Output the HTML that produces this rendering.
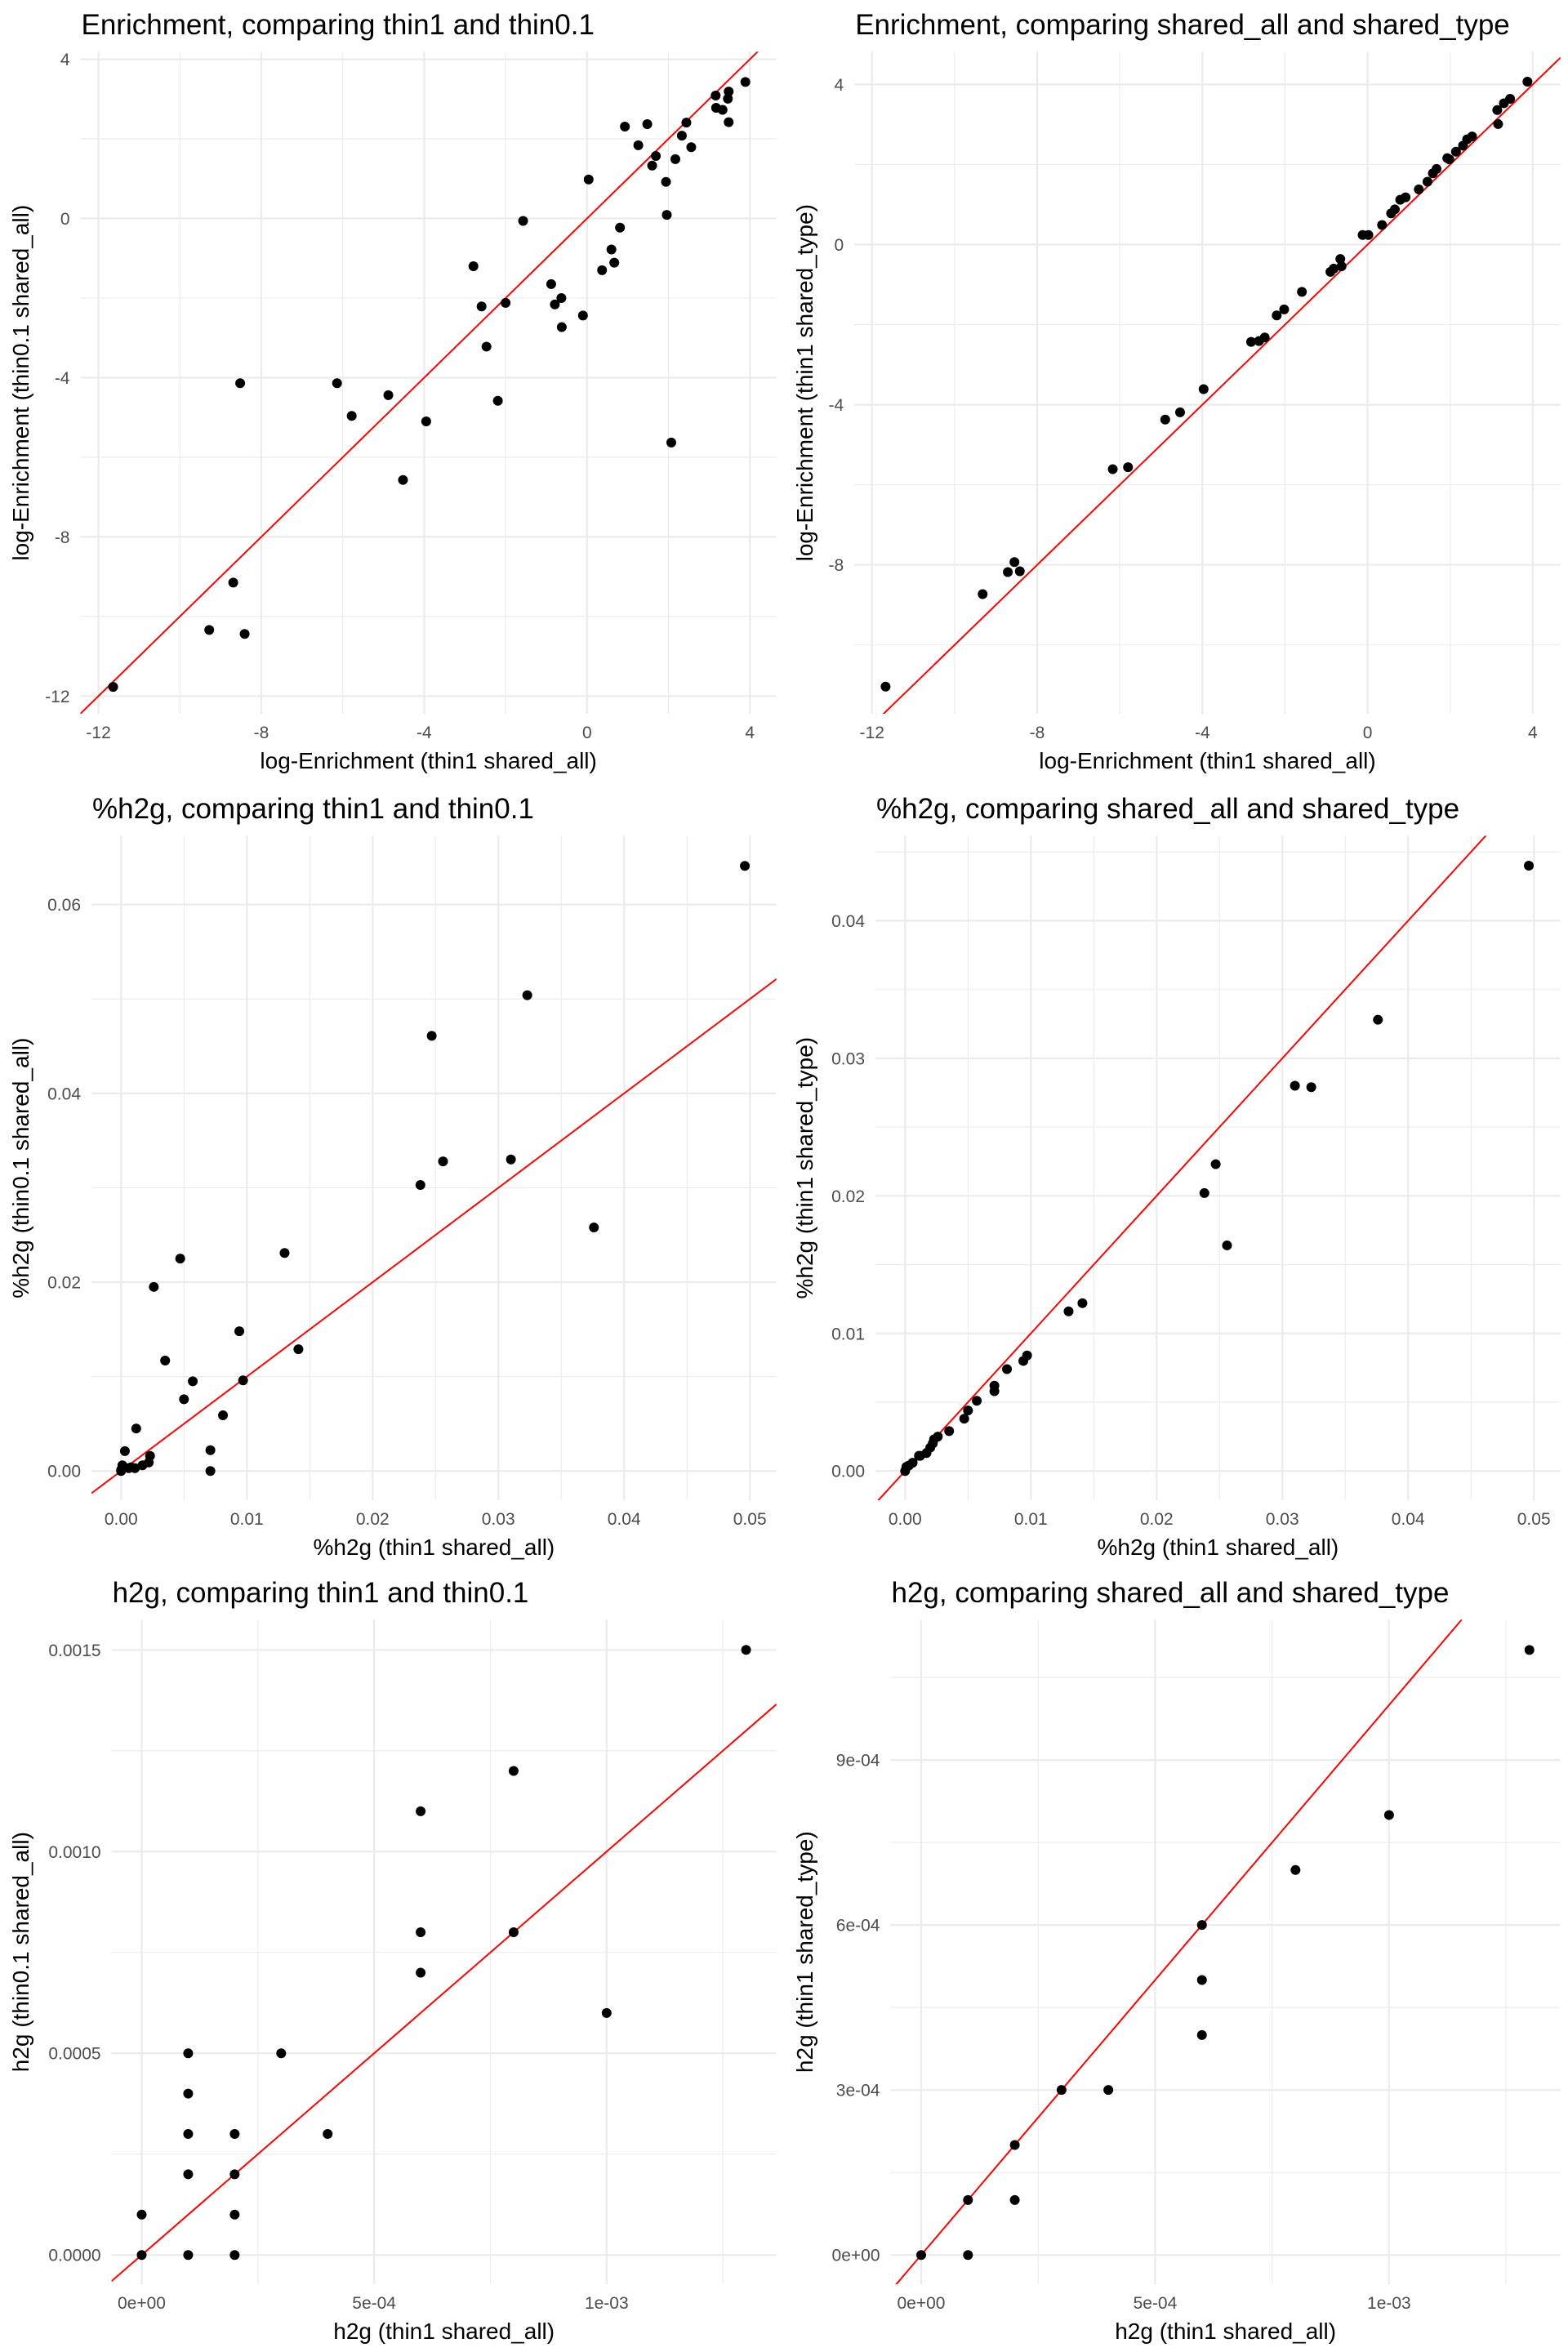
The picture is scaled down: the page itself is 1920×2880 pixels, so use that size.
<!DOCTYPE html>
<html><head><meta charset="utf-8"><style>
html,body{margin:0;padding:0;background:#fff;}
svg{display:block;font-family:"Liberation Sans",Arial,sans-serif;}
</style></head><body>
<svg id="chart" width="1920" height="2880" viewBox="0 0 1920 2880" xmlns="http://www.w3.org/2000/svg"></svg>
<script>
// ---- Panel 1 data: Enrichment thin1 vs thin0.1 ----
const p1X = [-11.64,-9.28,-8.41,-8.69,-8.52,-6.14,-5.78,-4.88,-4.52,-3.95,-2.79,-2.59,-2.47,-2.19,-2.0,-1.57,-0.88,-0.79,-0.63,-0.62,-0.10,0.04,0.37,0.60,0.67,0.81,0.93,1.26,1.48,1.60,1.69,1.94,1.96,2.07,2.17,2.33,2.44,2.56,3.16,3.17,3.33,3.46,3.48,3.48,3.89];
const p1Y = [-11.77,-10.34,-10.44,-9.15,-4.14,-4.14,-4.96,-4.44,-6.57,-5.10,-1.20,-2.21,-3.22,-4.58,-2.12,-0.06,-1.65,-2.16,-2.0,-2.73,-2.44,0.98,-1.30,-0.78,-1.11,-0.23,2.31,1.84,2.37,1.33,1.57,0.92,0.09,-5.63,1.49,2.08,2.41,1.79,3.09,2.78,2.73,3.01,3.19,2.42,3.43];
// ---- Panel 2 data: Enrichment shared_all vs shared_type ----
const p2X = [-11.67,-9.32,-8.71,-8.55,-8.42,-6.17,-5.80,-4.90,-4.54,-3.97,-2.82,-2.63,-2.49,-2.20,-2.02,-1.59,-0.90,-0.82,-0.66,-0.63,-0.12,0.02,0.35,0.57,0.66,0.79,0.92,1.24,1.45,1.58,1.67,1.93,1.98,2.14,2.31,2.41,2.53,3.14,3.16,3.30,3.45,3.87];
const p2Y = [-11.04,-8.73,-8.18,-7.93,-8.16,-5.61,-5.56,-4.37,-4.19,-3.61,-2.43,-2.41,-2.32,-1.77,-1.62,-1.18,-0.68,-0.60,-0.36,-0.54,0.24,0.24,0.49,0.78,0.88,1.12,1.18,1.38,1.57,1.78,1.89,2.16,2.13,2.32,2.47,2.63,2.70,3.36,3.01,3.53,3.64,4.07];
// ---- Panel 3 data: %h2g thin1 vs thin0.1 ----
const p3X = [0.0496,0.0323,0.0247,0.0256,0.0310,0.0238,0.0376,0.0130,0.0047,0.0026,0.0094,0.0141,0.0035,0.0057,0.0097,0.0050,0.0081,0.0012,0.0003,0.0071,0.0071,0.0023,0.0022,0.0017,0.0011,0.0006,0.0001,0.0000,0.0000,0.0008];
const p3Y = [0.0641,0.0504,0.0461,0.0328,0.0330,0.0303,0.0258,0.0231,0.0225,0.0195,0.0148,0.0129,0.0117,0.0095,0.0096,0.0076,0.0059,0.0045,0.0021,0.0022,0.0000,0.0016,0.0009,0.0006,0.0003,0.0003,0.0006,0.0000,0.0001,0.0004];
// ---- Panel 4 data: %h2g shared_all vs shared_type ----
const p4X = [0.0496,0.0376,0.0310,0.0323,0.0247,0.0238,0.0256,0.0130,0.0141,0.0097,0.0094,0.0081,0.0071,0.0071,0.0057,0.0050,0.0047,0.0035,0.0026,0.0023,0.0022,0.0020,0.0017,0.0012,0.0011,0.0006,0.0003,0.0001,0.0000];
const p4Y = [0.0440,0.0328,0.0280,0.0279,0.0223,0.0202,0.0164,0.0116,0.0122,0.0084,0.0080,0.0074,0.0062,0.0058,0.0051,0.0044,0.0038,0.0029,0.0025,0.0023,0.0020,0.0017,0.0013,0.0011,0.0011,0.0006,0.0004,0.0003,0.0000];
// ---- Panel 5 data: h2g thin1 vs thin0.1 ----
const p5X = [0,0,0.0001,0.0001,0.0001,0.0001,0.0001,0.0002,0.0002,0.0002,0.0002,0.0003,0.0004,0.0006,0.0006,0.0006,0.0008,0.0008,0.0010,0.0013];
const p5Y = [0,0.0001,0,0.0002,0.0003,0.0004,0.0005,0,0.0001,0.0002,0.0003,0.0005,0.0003,0.0011,0.0008,0.0007,0.0012,0.0008,0.0006,0.0015];
// ---- Panel 6 data: h2g shared_all vs shared_type ----
const p6X = [0,0.0001,0.0001,0.0002,0.0002,0.0003,0.0004,0.0006,0.0006,0.0006,0.0008,0.0010,0.0013];
const p6Y = [0,0,0.0001,0.0001,0.0002,0.0003,0.0003,0.0006,0.0005,0.0004,0.0007,0.0008,0.0011];
// ---- Tick values and labels ----
const enrTicks = [-12,-8,-4,0,4];
const enrTickLabels = ["-12","-8","-4","0","4"];
const enrMinor = [-10,-6,-2,2];
const pctXTicks = [0,0.01,0.02,0.03,0.04,0.05];
const pctXLabels = ["0.00","0.01","0.02","0.03","0.04","0.05"];
const pctXMinor = [0.005,0.015,0.025,0.035,0.045];
const p3YTicks = [0,0.02,0.04,0.06];
const p3YLabels = ["0.00","0.02","0.04","0.06"];
const p3YMinor = [0.01,0.03,0.05];
const p4YTicks = [0,0.01,0.02,0.03,0.04];
const p4YLabels = ["0.00","0.01","0.02","0.03","0.04"];
const p4YMinor = [0.005,0.015,0.025,0.035,0.045];
const h2XTicks = [0,0.0005,0.001];
const h2XLabels = ["0e+00","5e-04","1e-03"];
const h2XMinor = [0.00025,0.00075,0.00125];
const p5YTicks = [0,0.0005,0.001,0.0015];
const p5YLabels = ["0.0000","0.0005","0.0010","0.0015"];
const p5YMinor = [0.00025,0.00075,0.00125];
const p6YTicks = [0,0.0003,0.0006,0.0009];
const p6YLabels = ["0e+00","3e-04","6e-04","9e-04"];
const p6YMinor = [0.00015,0.00045,0.00075,0.00105];

const NS = "http://www.w3.org/2000/svg";
const svg = document.getElementById("chart");
function mk(tag, attrs, parent) {
  const e = document.createElementNS(NS, tag);
  for (const k in attrs) e.setAttribute(k, attrs[k]);
  (parent || svg).appendChild(e);
  return e;
}
function lin(v0, p0, v1, p1) { return v => p0 + (v - v0) * (p1 - p0) / (v1 - v0); }

const panels = [
  {id:"enrichment-thin", title:"Enrichment, comparing thin1 and thin0.1", xt:"log-Enrichment (thin1 shared_all)", yt:"log-Enrichment (thin0.1 shared_all)",
   L:98.5,T:63.4,R:950.8,B:874, xs:[-12,120.6,4,918.2], ys:[4,72.6,-12,852.3], xT:enrTicks,xL:enrTickLabels,xM:enrMinor, yT:enrTicks,yL:enrTickLabels,yM:enrMinor, X:p1X,Y:p1Y, ytx:35},
  {id:"enrichment-shared", title:"Enrichment, comparing shared_all and shared_type", xt:"log-Enrichment (thin1 shared_all)", yt:"log-Enrichment (thin1 shared_type)",
   L:1046.2,T:63.4,R:1910.8,B:874, xs:[-12,1067.7,4,1876.9], ys:[4,103.4,-8,691.7], xT:enrTicks,xL:enrTickLabels,xM:enrMinor, yT:enrTicks,yL:enrTickLabels,yM:enrMinor, X:p2X,Y:p2Y, ytx:995},
  {id:"pct-h2g-thin", title:"%h2g, comparing thin1 and thin0.1", xt:"%h2g (thin1 shared_all)", yt:"%h2g (thin0.1 shared_all)",
   L:112,T:1023.4,R:950.8,B:1837, xs:[0,148.3,0.05,918.2], ys:[0,1801.2,0.06,1107.7], xT:pctXTicks,xL:pctXLabels,xM:pctXMinor, yT:p3YTicks,yL:p3YLabels,yM:p3YMinor, X:p3X,Y:p3Y, ytx:35},
  {id:"pct-h2g-shared", title:"%h2g, comparing shared_all and shared_type", xt:"%h2g (thin1 shared_all)", yt:"%h2g (thin1 shared_type)",
   L:1072,T:1023.4,R:1910.8,B:1837, xs:[0,1108.3,0.05,1878.2], ys:[0,1801.2,0.04,1127.4], xT:pctXTicks,xL:pctXLabels,xM:pctXMinor, yT:p4YTicks,yL:p4YLabels,yM:p4YMinor, X:p4X,Y:p4Y, ytx:995},
  {id:"h2g-thin", title:"h2g, comparing thin1 and thin0.1", xt:"h2g (thin1 shared_all)", yt:"h2g (thin0.1 shared_all)",
   L:136.6,T:1983.4,R:950.8,B:2797, xs:[0,173.5,0.001,742.8], ys:[0,2761.2,0.0015,2020.3], xT:h2XTicks,xL:h2XLabels,xM:h2XMinor, yT:p5YTicks,yL:p5YLabels,yM:p5YMinor, X:p5X,Y:p5Y, ytx:35},
  {id:"h2g-shared", title:"h2g, comparing shared_all and shared_type", xt:"h2g (thin1 shared_all)", yt:"h2g (thin1 shared_type)",
   L:1090.5,T:1983.4,R:1910.8,B:2797, xs:[0,1128,0.001,1700.9], ys:[0,2761.2,0.0009,2155.1], xT:h2XTicks,xL:h2XLabels,xM:h2XMinor, yT:p6YTicks,yL:p6YLabels,yM:p6YMinor, X:p6X,Y:p6Y, ytx:995}
];

panels.forEach((p, i) => {
  const g = mk("g", {});
  
  
  const sx = lin(p.xs[0], p.xs[1], p.xs[2], p.xs[3]);
  const sy = lin(p.ys[0], p.ys[1], p.ys[2], p.ys[3]);
  const cid = "clip" + i;
  const cp = mk("clipPath", {id: cid}, g);
  mk("rect", {x:p.L, y:p.T, width:p.R-p.L, height:p.B-p.T}, cp);
  p.xM.forEach(v => { const x = sx(v); if (x>p.L && x<p.R) { const l = mk("line",{x1:x,x2:x,y1:p.T,y2:p.B,stroke:"#ebebeb","stroke-width":1.1},g);   }});
  p.yM.forEach(v => { const y = sy(v); if (y>p.T && y<p.B) { const l = mk("line",{x1:p.L,x2:p.R,y1:y,y2:y,stroke:"#ebebeb","stroke-width":1.1},g);   }});
  p.xT.forEach((v, k) => {
    const x = sx(v);
    if (x < p.L || x > p.R) return;
    const l = mk("line",{x1:x,x2:x,y1:p.T,y2:p.B,stroke:"#ebebeb","stroke-width":2.2},g);
     
    const t = mk("text",{x:x,y:p.B+30,"text-anchor":"middle","font-size":21,fill:"#4d4d4d"},g);
    t.textContent = p.xL[k];
     
  });
  p.yT.forEach((v, k) => {
    const y = sy(v);
    if (y < p.T || y > p.B) return;
    const l = mk("line",{x1:p.L,x2:p.R,y1:y,y2:y,stroke:"#ebebeb","stroke-width":2.2},g);
     
    const t = mk("text",{x:p.L-13,y:y+7.5,"text-anchor":"end","font-size":21,fill:"#4d4d4d"},g);
    t.textContent = p.yL[k];
     
  });
  const xmin = p.xs[0] + (p.L - p.xs[1]) * (p.xs[2]-p.xs[0])/(p.xs[3]-p.xs[1]);
  const xmax = p.xs[0] + (p.R - p.xs[1]) * (p.xs[2]-p.xs[0])/(p.xs[3]-p.xs[1]);
  const rl = mk("line",{x1:sx(xmin),y1:sy(xmin),x2:sx(xmax),y2:sy(xmax),stroke:"#ff0000","stroke-width":2,"clip-path":"url(#"+cid+")"},g);
   
  p.X.forEach((v, k) => {
    const c = mk("circle",{cx:sx(v),cy:sy(p.Y[k]),r:6,fill:"#000"},g);
     
  });
  const tt = mk("text",{x:p.L+1,y:p.T-21.5,"font-size":35,fill:"#000"},g);
  tt.textContent = p.title;
   
  const xt = mk("text",{x:(p.L+p.R)/2,y:p.B+67,"text-anchor":"middle","font-size":28,fill:"#000"},g);
  xt.textContent = p.xt;
   
  const cy = (p.T+p.B)/2;
  const yt = mk("text",{x:p.ytx,y:cy,"text-anchor":"middle","font-size":28,fill:"#000",transform:"rotate(-90 "+p.ytx+" "+cy+")"},g);
  yt.textContent = p.yt;
   
});
</script>
</body></html>
